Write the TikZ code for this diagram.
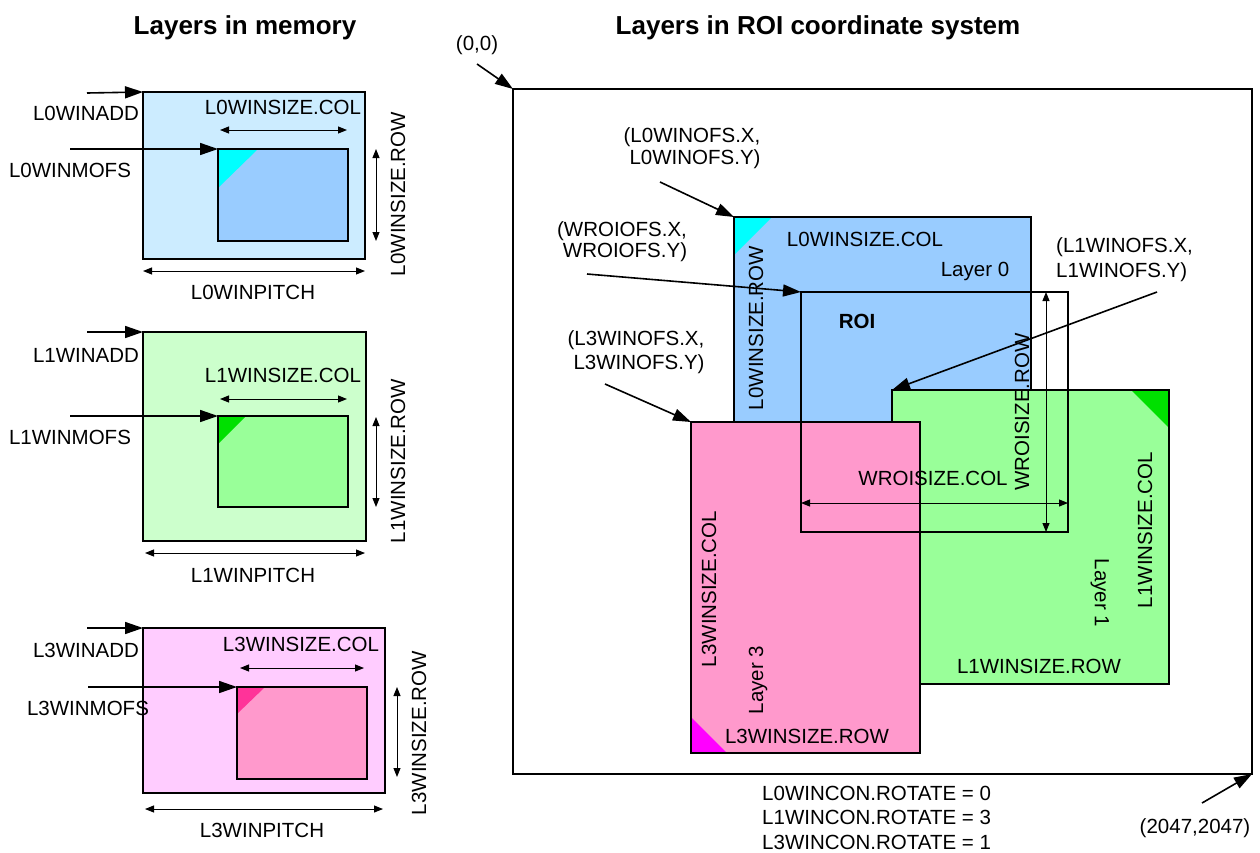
\documentclass[tikz,border=0pt]{standalone}
\usepackage{fontspec}
\setmainfont{Liberation Sans}
\usetikzlibrary{arrows.meta}
\definecolor{bOut}{HTML}{CCECFF}
\definecolor{bIn}{HTML}{99CCFF}
\definecolor{bTri}{HTML}{00FFFF}
\definecolor{gOut}{HTML}{CCFFCC}
\definecolor{gIn}{HTML}{99FF99}
\definecolor{gTri}{HTML}{00E000}
\definecolor{pOut}{HTML}{FFCCFF}
\definecolor{pIn}{HTML}{FF99CC}
\definecolor{pTri}{HTML}{FF3399}
\definecolor{mTri}{HTML}{FF00FF}
\begin{document}
\begin{tikzpicture}[x=1pt,y=-1pt,
  font=\fontsize{20.5}{23}\selectfont,
  lbl/.style={inner sep=0pt, text height=14.3pt, text depth=0pt},
  ttl/.style={inner sep=0pt, text height=18.6pt, text depth=0pt, font=\fontsize{26}{29}\selectfont\bfseries},
  ptr/.style={line width=1.6pt, -{Triangle[length=18pt,width=12pt]}},
  dimarr/.style={line width=1pt, {Triangle[length=9pt,width=7pt]}-{Triangle[length=9pt,width=7pt]}},
  boxline/.style={draw=black, line width=1.5pt}]
\useasboundingbox (0,0) rectangle (1260,852);

% titles
\node[ttl] (t1) at (245,25) {Layers in memory};
\node[ttl] (t2) at (818,25) {Layers in ROI coordinate system};

% ---------- panel L0 in memory ----------
\coordinate (m0a) at (143,92); \coordinate (m0b) at (365,259);
\coordinate (i0a) at (218,149); \coordinate (i0b) at (348,241);
\draw[boxline, fill=bOut] (m0a) rectangle (m0b);
\fill[bIn] (i0a) rectangle (i0b);
\fill[bTri] (218,149) -- (258,149) -- (218,188) -- cycle;
\draw[boxline] (i0a) rectangle (i0b);
\coordinate (s0add) at (87,93);
\draw[ptr] (s0add) -- (m0a);
\node[lbl] (l0add) at (86,113) {L0WINADD};
\coordinate (s0mofs) at (70,149);
\draw[ptr] (s0mofs) -- (i0a);
\node[lbl] (l0mofs) at (70,170) {L0WINMOFS};
\coordinate (c0a) at (220,130); \coordinate (c0b) at (347,130);
\draw[dimarr] (c0a) -- (c0b);
\node[lbl] (l0col) at (283,107) {L0WINSIZE.COL};
\coordinate (r0a) at (376,149); \coordinate (r0b) at (376,241);
\draw[dimarr] (r0a) -- (r0b);
\node[lbl, rotate=90] (l0row) at (398,194) {L0WINSIZE.ROW};
\coordinate (p0a) at (143,271); \coordinate (p0b) at (365,271);
\draw[dimarr] (p0a) -- (p0b);
\node[lbl] (l0pitch) at (253,292) {L0WINPITCH};

% ---------- panel L1 in memory ----------
\coordinate (m1a) at (143,332); \coordinate (m1b) at (366,541);
\coordinate (i1a) at (218,416); \coordinate (i1b) at (348,507);
\draw[boxline, fill=gOut] (m1a) rectangle (m1b);
\fill[gIn] (i1a) rectangle (i1b);
\fill[gTri] (218,416) -- (246,416) -- (218,444) -- cycle;
\draw[boxline] (i1a) rectangle (i1b);
\coordinate (s1add) at (87,332);
\draw[ptr] (s1add) -- (m1a);
\node[lbl] (l1add) at (86,355) {L1WINADD};
\coordinate (s1mofs) at (70,416);
\draw[ptr] (s1mofs) -- (i1a);
\node[lbl] (l1mofs) at (70,437) {L1WINMOFS};
\coordinate (c1a) at (220,399); \coordinate (c1b) at (347,399);
\draw[dimarr] (c1a) -- (c1b);
\node[lbl] (l1col) at (283,375) {L1WINSIZE.COL};
\coordinate (r1a) at (376,417); \coordinate (r1b) at (376,507);
\draw[dimarr] (r1a) -- (r1b);
\node[lbl, rotate=90] (l1row) at (398,461) {L1WINSIZE.ROW};
\coordinate (p1a) at (145,553); \coordinate (p1b) at (365,553);
\draw[dimarr] (p1a) -- (p1b);
\node[lbl] (l1pitch) at (253,575) {L1WINPITCH};

% ---------- panel L3 in memory ----------
\coordinate (m3a) at (143,628); \coordinate (m3b) at (385,793);
\coordinate (i3a) at (237,687); \coordinate (i3b) at (367,779);
\draw[boxline, fill=pOut] (m3a) rectangle (m3b);
\fill[pIn] (i3a) rectangle (i3b);
\fill[pTri] (237,687) -- (265,687) -- (237,714) -- cycle;
\draw[boxline] (i3a) rectangle (i3b);
\coordinate (s3add) at (87,628);
\draw[ptr] (s3add) -- (m3a);
\node[lbl] (l3add) at (86,650) {L3WINADD};
\coordinate (s3mofs) at (88,687);
\draw[ptr] (s3mofs) -- (i3a);
\node[lbl] (l3mofs) at (88,708) {L3WINMOFS};
\coordinate (c3a) at (240,668); \coordinate (c3b) at (364,668);
\draw[dimarr] (c3a) -- (c3b);
\node[lbl] (l3col) at (301,644) {L3WINSIZE.COL};
\coordinate (r3a) at (397,687); \coordinate (r3b) at (397,777);
\draw[dimarr] (r3a) -- (r3b);
\node[lbl, rotate=90] (l3row) at (419,733) {L3WINSIZE.ROW};
\coordinate (p3a) at (145,809); \coordinate (p3b) at (383,809);
\draw[dimarr] (p3a) -- (p3b);
\node[lbl] (l3pitch) at (262,830) {L3WINPITCH};

% ---------- ROI coordinate system ----------
\coordinate (ra) at (513,89); \coordinate (rb) at (1252,774);
\draw[line width=1.5pt] (ra) rectangle (rb);
\node[lbl] (o00) at (477,43) {(0,0)};
\coordinate (so00) at (477,64);
\draw[ptr] (so00) -- (ra);
\node[lbl] (oend) at (1195,826) {(2047,2047)};
\coordinate (soend) at (1202,803);
\draw[ptr] (soend) -- (rb);

% layer 0
\coordinate (L0a) at (734,217); \coordinate (L0b) at (1031,440);
\fill[bIn] (L0a) rectangle (L0b);
\fill[bTri] (734,217) -- (772,217) -- (734,255) -- cycle;
\draw[boxline] (L0a) rectangle (L0b);
% layer 1
\coordinate (L1a) at (892,390); \coordinate (L1b) at (1169,684);
\fill[gIn] (L1a) rectangle (L1b);
\fill[gTri] (1131,390) -- (1169,390) -- (1169,428) -- cycle;
\draw[boxline] (L1a) rectangle (L1b);
% layer 3
\coordinate (L3a) at (691,422); \coordinate (L3b) at (920,753);
\fill[pIn] (L3a) rectangle (L3b);
\fill[mTri] (691,717) -- (691,753) -- (727,753) -- cycle;
\draw[boxline] (L3a) rectangle (L3b);
% ROI window
\coordinate (Wa) at (801,292); \coordinate (Wb) at (1068,532);
\draw[line width=1.5pt] (Wa) rectangle (Wb);

% texts inside
\node[lbl] (t0col) at (865,239) {L0WINSIZE.COL};
\node[lbl] (t0lay) at (975,269) {Layer 0};
\node[lbl, rotate=90] (t0row) at (756,328) {L0WINSIZE.ROW};
\node[lbl, font=\fontsize{20.5}{23}\selectfont\bfseries] (troi) at (857,321) {ROI};
\coordinate (wr1) at (1046,292); \coordinate (wr2) at (1046,532);
\draw[dimarr] (wr1) -- (wr2);
\node[lbl, rotate=90] (twrow) at (1022,412) {WROISIZE.ROW};
\coordinate (wc1) at (801,503); \coordinate (wc2) at (1068,503);
\draw[dimarr] (wc1) -- (wc2);
\node[lbl] (twcol) at (933,478) {WROISIZE.COL};
\node[lbl, rotate=90] (t1col) at (1145,530) {L1WINSIZE.COL};
\node[lbl, rotate=-90] (t1lay) at (1102,593) {Layer 1};
\node[lbl] (t1row) at (1039,666) {L1WINSIZE.ROW};
\node[lbl, rotate=90] (t3col) at (709,589) {L3WINSIZE.COL};
\node[lbl, rotate=90] (t3lay) at (756,680) {Layer 3};
\node[lbl] (t3row) at (807,736) {L3WINSIZE.ROW};

% callouts
\node[lbl] (k0a) at (692,135) {(L0WINOFS.X,};
\node[lbl] (k0b) at (695,157) {L0WINOFS.Y)};
\coordinate (sk0) at (660,182);
\draw[ptr] (sk0) -- (L0a);
\node[lbl] (kwa) at (622,229) {(WROIOFS.X,};
\node[lbl] (kwb) at (625,250) {WROIOFS.Y)};
\coordinate (skw) at (587,274);
\draw[ptr] (skw) -- (Wa);
\node[lbl, anchor=west] (k1a) at (1056,245) {(L1WINOFS.X,};
\node[lbl, anchor=west] (k1b) at (1056,270) {L1WINOFS.Y)};
\coordinate (sk1) at (1157,292);
\draw[ptr] (sk1) -- (L1a);
\node[lbl] (k3a) at (636,338) {(L3WINOFS.X,};
\node[lbl] (k3b) at (639,362) {L3WINOFS.Y)};
\coordinate (sk3) at (605,384);
\draw[ptr] (sk3) -- (L3a);

% rotate settings
\node[lbl, anchor=west] (rot0) at (762,793) {L0WINCON.ROTATE = 0};
\node[lbl, anchor=west] (rot1) at (762,817) {L1WINCON.ROTATE = 3};
\node[lbl, anchor=west] (rot3) at (762,842) {L3WINCON.ROTATE = 1};
\end{tikzpicture}
\end{document}
